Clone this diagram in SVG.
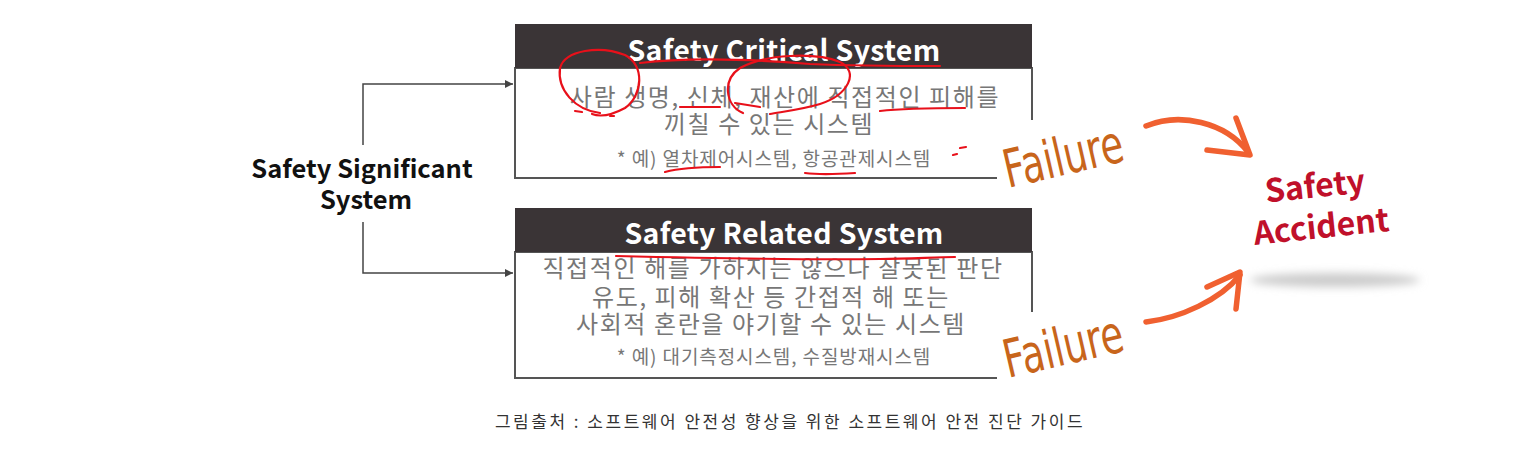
<svg xmlns="http://www.w3.org/2000/svg" width="1536" height="466" viewBox="0 0 1536 466">
<defs>
<marker id="ah" viewBox="0 0 10 10" refX="10" refY="5" markerWidth="8" markerHeight="8" markerUnits="userSpaceOnUse" orient="auto"><path d="M0,0 L10,5 L0,10 Z" fill="#444"/></marker>
<filter id="blur" x="-20%" y="-100%" width="140%" height="300%"><feGaussianBlur stdDeviation="4"/></filter>
<style>
.hdr{fill:#3a3436}
.box{fill:#fff;stroke:#555;stroke-width:2}
.htxt{font-family:"Noto Sans CJK KR","Open Sans",sans-serif;font-weight:bold;font-size:28.5px;fill:#fff;text-anchor:middle;letter-spacing:0.3px}
.body{font-family:"Noto Sans CJK KR",sans-serif;font-size:24px;fill:#777;text-anchor:middle;letter-spacing:1.6px}
.ex{font-family:"Noto Sans CJK KR",sans-serif;font-size:19px;fill:#777;text-anchor:middle;letter-spacing:0.9px}
.conn{fill:none;stroke:#444;stroke-width:1.5}
.red{fill:none;stroke:#e8101a;stroke-width:2.2;stroke-linecap:round}
.fail{font-family:"DejaVu Sans",sans-serif;font-size:44px;fill:#c8651b}
.orange{fill:none;stroke:#f06030;stroke-width:5.5;stroke-linecap:round;stroke-linejoin:round}
.acc{font-family:"Noto Sans CJK KR",sans-serif;font-weight:bold;font-size:32px;fill:#c0102a;text-anchor:middle}
</style>
</defs>
<rect width="1536" height="466" fill="#fff"/>

<g id="connectors">
<path class="conn" d="M363,145 V84 H513" marker-end="url(#ah)"/>
<path class="conn" d="M363,222 V273 H513" marker-end="url(#ah)"/>
<path class="orange" d="M1146,126 C1180,112 1225,122 1248,152"/>
<path class="orange" d="M1236,118 L1250,155 L1207,150"/>
<path class="orange" d="M1146,322 C1180,318 1220,300 1240,275"/>
<path class="orange" d="M1207,287 L1240,272 L1236,309"/>
</g>

<g id="safety-significant">
<text font-family="'Noto Sans CJK KR','Open Sans',sans-serif" font-weight="bold" font-size="25.5" fill="#111" text-anchor="middle"><tspan x="362" y="178">Safety Significant</tspan><tspan x="366" y="209">System</tspan></text>
</g>

<g id="critical">
<path class="box" d="M997,178 H515 V68 H1032 V120"/>
<rect class="hdr" x="515" y="24" width="517" height="44"/>
<text class="htxt" x="784" y="61">Safety Critical System</text>
<text class="body"><tspan x="785" y="106">사람 생명, 신체, 재산에 직접적인 피해를</tspan><tspan x="769" y="133">끼칠 수 있는 시스템</tspan></text>
<text class="ex" x="774" y="166">* 예) 열차제어시스템, 항공관제시스템</text>
</g>

<g id="related">
<path class="box" d="M997,378 H515 V252 H1032 V312"/>
<rect class="hdr" x="515" y="208" width="517" height="44"/>
<text class="htxt" x="784" y="244">Safety Related System</text>
<text class="body"><tspan x="773" y="277">직접적인 해를 가하지는 않으나 잘못된 판단</tspan><tspan x="771" y="306">유도, 피해 확산 등 간접적 해 또는</tspan><tspan x="771" y="333">사회적 혼란을 야기할 수 있는 시스템</tspan></text>
<text class="ex" x="774" y="364">* 예) 대기측정시스템, 수질방재시스템</text>
</g>

<g id="annotations">
<path class="red" d="M600,113 C575,110 557,90 560,68 C565,50 600,45 625,55 C645,65 643,95 625,108 C612,115 600,117 592,114"/>
<path class="red" d="M640,63 C690,57 760,60 810,64 C860,66 900,66 940,66"/>
<path class="red" d="M743,113 C725,105 722,80 740,68 C765,54 815,52 840,62 C860,72 848,95 820,104 C800,110 780,112 770,114"/>
<path class="red" d="M680,107 L720,107"/>
<path class="red" d="M735,103 L760,107"/>
<path class="red" d="M880,111 C905,108 935,108 965,108"/>
<path class="red" d="M665,172 C680,168 695,167 720,167"/>
<path class="red" d="M805,173 C820,175 840,174 855,173"/>
<path class="red" d="M575,111 L582,112"/>
<path class="red" d="M610,116 L614,116"/>
<path class="red" d="M960,148 L966,147"/>
<path class="red" d="M953,155 L957,154"/>
<path class="red" d="M616,256 C700,258 800,260 880,259 C910,259 935,257 955,257"/>
</g>

<g id="failure1">
<text class="fail" transform="translate(1008,188) rotate(-13) scale(0.84,1.2)">Failure</text>
</g>
<g id="failure2">
<text class="fail" transform="translate(1008,378) rotate(-13) scale(0.84,1.2)">Failure</text>
</g>

<g id="accident">
<ellipse cx="1335" cy="280" rx="85" ry="7" fill="#ccc" filter="url(#blur)"/>
<text class="acc" transform="rotate(-6 1320 215)"><tspan x="1318" y="197">Safety</tspan><tspan x="1320" y="238">Accident</tspan></text>
</g>

<g id="caption">
<text font-family="'Noto Sans CJK KR',sans-serif" font-size="17" fill="#333" text-anchor="middle" letter-spacing="2.5" x="790" y="428">그림출처 : 소프트웨어 안전성 향상을 위한 소프트웨어 안전 진단 가이드</text>
</g>
</svg>
